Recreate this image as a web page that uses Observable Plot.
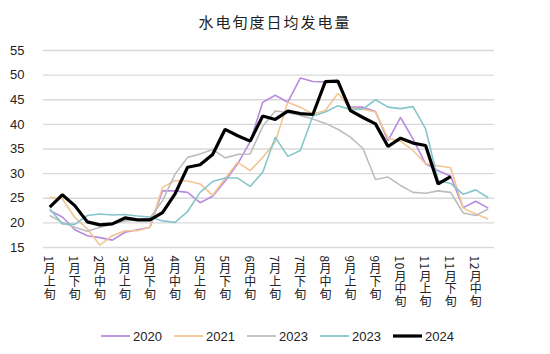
<!DOCTYPE html>
<html><head><meta charset="utf-8">
<script src="https://cdn.jsdelivr.net/npm/d3@7"></script>
<script src="https://cdn.jsdelivr.net/npm/@observablehq/plot@0.6"></script>
<style>
body{margin:0;background:#fff;width:550px;height:354px;overflow:hidden;position:relative;font-family:"Liberation Sans",Arial,sans-serif;}
#title{position:absolute;left:0;top:12px;width:550px;text-align:center;font-family:"Noto Sans CJK SC",sans-serif;font-size:15px;line-height:20px;letter-spacing:2px;color:#222;}
#chart{position:absolute;left:0;top:36px;}
#legend{position:absolute;left:0;top:327px;width:550px;height:18px;}
.item{position:absolute;top:0;height:18px;display:flex;align-items:center;font-size:13px;color:#222;}
.item svg{margin-right:3px;}
</style></head>
<body>
<div id="title">水电旬度日均发电量</div>
<div id="chart"></div>
<div id="legend"></div>
<script>
const months = ["1月","2月","3月","4月","5月","6月","7月","8月","9月","10月","11月","12月"];
const parts = ["上旬","中旬","下旬"];
const tickLabels = ["1月上旬","1月下旬","2月中旬","3月上旬","3月下旬","4月中旬","5月上旬","5月下旬","6月中旬","7月上旬","7月下旬","8月中旬","9月上旬","9月下旬","10月中旬","11月上旬","11月下旬","12月中旬"];
const yTicks = [15,20,25,30,35,40,45,50,55];

const seriesKeys = ["2020","2021","2023a","2023b","2024"];
const seriesLabels = ["2020","2021","2023","2023","2024"];
const seriesColors = ["#b88be0","#f3c592","#bdbdbd","#86c6cb","#000000"];

const y2020 = [22.5,21.2,18.6,17.4,17.0,16.5,18.1,18.6,19.1,26.5,26.5,26.2,24.1,25.4,28.5,32.0,36.5,44.5,45.9,44.5,49.4,48.7,48.6,48.5,43.5,43.5,42.6,36.7,41.4,37.0,32.0,30.6,29.5,23.1,24.4,23.0];
const y2021 = [25.2,24.9,21.1,18.8,15.5,17.4,18.4,18.4,19.1,27.2,28.6,28.5,27.9,25.6,29.0,32.3,30.6,33.3,36.4,44.5,43.5,42.1,42.8,46.3,43.3,43.1,42.5,37.2,36.6,34.7,32.0,31.6,31.2,23.0,21.8,20.8];
const y2023a = [21.5,20.1,19.1,18.3,19.1,19.8,20.4,20.6,21.0,24.5,29.9,33.3,34.0,34.9,33.2,33.9,34.0,39.6,42.7,42.4,41.8,41.1,40.2,39.0,37.4,35.1,28.8,29.3,27.6,26.2,26.0,26.5,26.2,22.0,21.5,22.8];
const y2023b = [22.8,19.8,19.7,21.5,21.8,21.6,21.7,21.4,21.2,20.4,20.1,22.3,26.2,28.4,29.1,29.1,27.4,30.3,37.4,33.5,34.7,41.7,42.5,43.8,43.0,43.1,45.0,43.5,43.2,43.6,39.1,28.6,28.0,25.8,26.7,25.1];
const y2024 = [23.2,25.7,23.5,20.2,19.6,19.8,21.0,20.6,20.6,22.1,25.9,31.3,31.8,33.9,39.0,37.7,36.6,41.7,41.0,42.7,42.2,42.0,48.7,48.8,42.8,41.4,40.1,35.5,37.2,36.2,35.7,27.9,29.4];

const dekads = months.flatMap(m => parts.map(p => m + p));
const valuesByKey = {"2020": y2020, "2021": y2021, "2023a": y2023a, "2023b": y2023b, "2024": y2024};
const data = seriesKeys.flatMap(k => valuesByKey[k].map((v, i) => ({key: k, x: dekads[i], y: v})));

const chart = Plot.plot({
  width: 550, height: 280,
  marginTop: 14, marginBottom: 69, marginLeft: 43, marginRight: 56,
  style: {fontFamily: '"Liberation Sans", Arial, sans-serif', background: "#fff"},
  x: {type: "point", domain: dekads, padding: 0.5, round: false},
  y: {domain: [15, 55]},
  color: {domain: seriesKeys, range: seriesColors},
  marks: [
    Plot.gridY(yTicks, {stroke: "#d9d9d9", strokeOpacity: 1, strokeWidth: 1.3}),
    Plot.axisY(yTicks, {tickSize: 0, tickPadding: 19, fontSize: 13, fill: "#222", label: null}),
    Plot.axisX(tickLabels, {tickSize: 0, tickPadding: 8, fontSize: 12, fill: "#222", textAnchor: "start", label: null, fontFamily: '"Noto Sans CJK SC", sans-serif'}),
    ...seriesKeys.map(k => Plot.line(data.filter(d => d.key === k), {
      x: "x", y: "y", stroke: "key",
      strokeWidth: k === "2024" ? 3.2 : 1.6,
      strokeLinejoin: "miter", strokeLinecap: "butt"
    }))
  ]
});
document.getElementById("chart").appendChild(chart);
d3.select(chart).selectAll('[aria-label="x-axis tick label"] text')
  .style("writing-mode", "vertical-rl")
  .style("letter-spacing", "0.6px")
  .attr("y", 0).attr("dy", null);

const legend = d3.select("#legend");
seriesKeys.forEach((k, i) => {
  const item = legend.append("div").attr("class", "item").style("left", (101 + i * 73) + "px");
  const s = item.append("svg").attr("width", 29).attr("height", 10);
  s.append("line").attr("x1", 0).attr("x2", 29).attr("y1", 5).attr("y2", 5)
    .attr("stroke", seriesColors[i]).attr("stroke-width", k === "2024" ? 3.2 : 1.8);
  item.append("span").text(seriesLabels[i]);
});
</script>
</body></html>
